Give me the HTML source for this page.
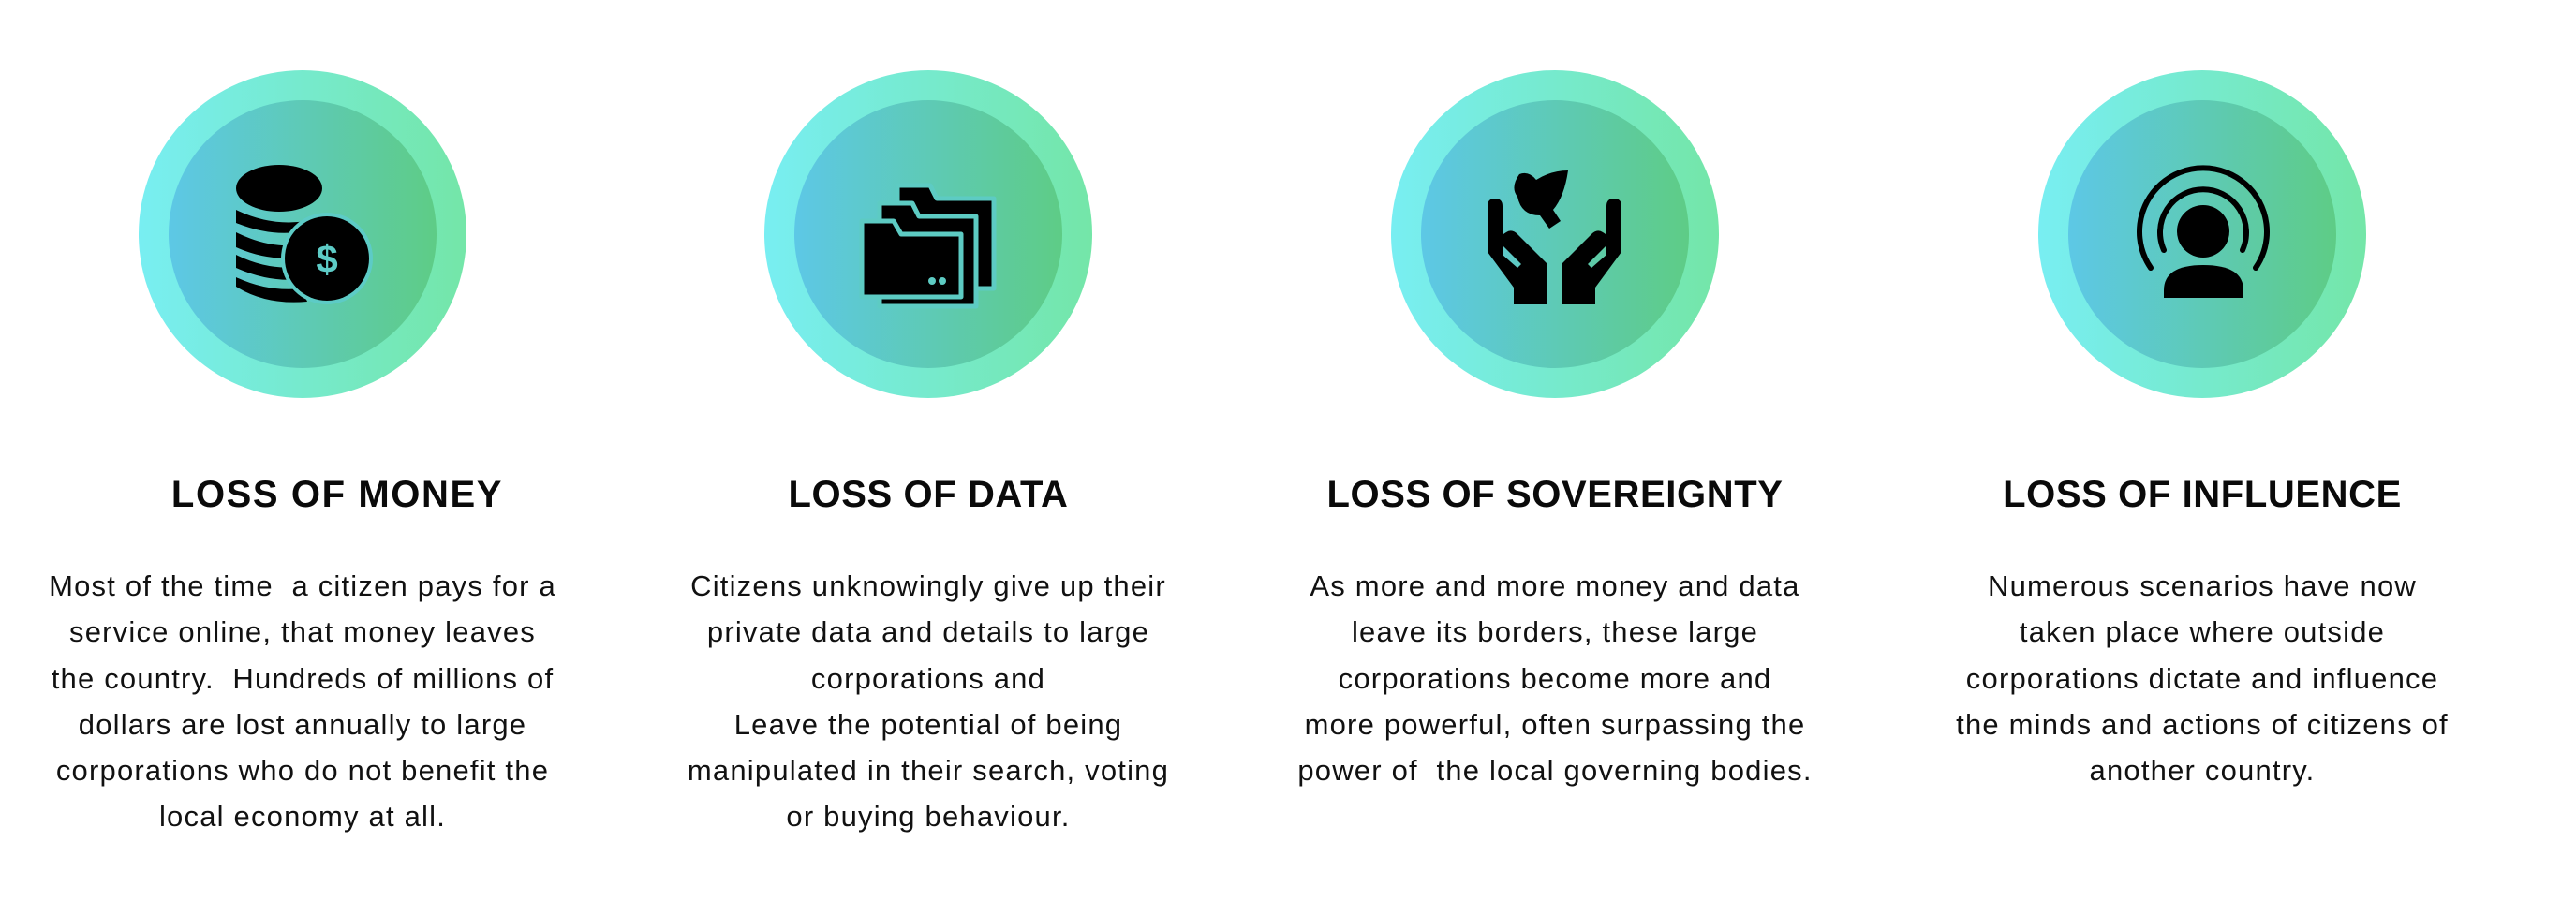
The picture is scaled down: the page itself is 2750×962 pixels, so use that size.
<!DOCTYPE html>
<html><head><meta charset="utf-8"><style>
html,body{margin:0;padding:0;background:#fff;}
body{width:2750px;height:962px;position:relative;overflow:hidden;}
svg{position:absolute;left:0;top:0;}
.h{position:absolute;width:700px;text-align:center;font-family:"Liberation Sans",sans-serif;font-weight:bold;font-size:40px;line-height:40px;color:#0a0a0a;top:508px;white-space:nowrap;letter-spacing:0.6px;}
.p{position:absolute;width:800px;text-align:center;font-family:"Liberation Sans",sans-serif;font-size:31px;line-height:49.3px;color:#111;top:601px;white-space:nowrap;letter-spacing:1.2px;}
</style></head><body>
<svg width="2750" height="962" viewBox="0 0 2750 962">
<defs>
<linearGradient id="og" x1="0" x2="1" y1="0" y2="0"><stop offset="0" stop-color="#78eef2"/><stop offset="1" stop-color="#74e6a8"/></linearGradient>
<linearGradient id="ig" x1="0" x2="1" y1="0" y2="0"><stop offset="0" stop-color="#5dc8e6"/><stop offset="1" stop-color="#5ecc86"/></linearGradient>
</defs>
<g>
<circle cx="323" cy="250" r="175" fill="url(#og)"/><circle cx="323" cy="250" r="143" fill="url(#ig)"/>
<g>
<ellipse cx="298" cy="201" rx="46" ry="25" fill="#000"/>
<path d="M252 224 q46 22 92 8 l-8 12 q-40 12 -84 -6z" fill="#000"/>
<path d="M252 248 q40 20 78 12 l-6 14 q-36 6 -72 -10z" fill="#000"/>
<path d="M252 272 q36 18 72 12 l-2 14 q-34 4 -70 -12z" fill="#000"/>
<path d="M252 296 q34 16 70 12 l6 14 q-44 4 -76 -16z" fill="#000"/>
<circle cx="349" cy="276" r="49" fill="#5dcbc6"/>
<circle cx="349" cy="276" r="45" fill="#000"/>
<text x="349" y="291" text-anchor="middle" font-family="Liberation Sans,sans-serif" font-weight="bold" font-size="42" fill="#5dcbc6">$</text>
</g></g>
<g>
<circle cx="991" cy="250" r="175" fill="url(#og)"/><circle cx="991" cy="250" r="143" fill="url(#ig)"/>
<g stroke="#5dcbc3" stroke-width="5" stroke-linejoin="round">
<path d="M958 198 h35 l7 14 h61 v96 h-103z" fill="#000"/>
<path d="M939 217 h35 l7 14 h61 v96 h-103z" fill="#000"/>
<path d="M920 236 h34 l8 14 h64 v67 h-106z" fill="#000"/>
</g>
<circle cx="995" cy="300" r="4" fill="#5dcbc3"/><circle cx="1006" cy="300" r="4" fill="#5dcbc3"/>
</g>
<g>
<circle cx="1660" cy="250" r="175" fill="url(#og)"/><circle cx="1660" cy="250" r="143" fill="url(#ig)"/>
<g fill="#000">
<path d="M1622 186 q10 -4 18 6 q16 -10 34 -10 q-4 28 -16 42 l8 12 l-12 8 l-10 -14 q-20 0 -24 -20 q-8 -10 2 -24z"/>
<path d="M1588 220 q0 -8 8 -8 q8 0 8 8 v52 l16 14 l4 -4 l-20 -20 q-4 -10 4 -14 q6 -4 12 2 l32 32 v43 h-36 v-18 l-28 -38z"/>
<path d="M1731 220 q0 -8 -8 -8 q-8 0 -8 8 v52 l-16 14 l-4 -4 l20 -20 q4 -10 -4 -14 q-6 -4 -12 2 l-32 32 v43 h36 v-18 l28 -38z"/>
</g></g>
<g>
<circle cx="2351" cy="250" r="175" fill="url(#og)"/><circle cx="2351" cy="250" r="143" fill="url(#ig)"/>
<g>
<path d="M2296 286 A68 68 0 1 1 2408 286" fill="none" stroke="#000" stroke-width="6" stroke-linecap="round"/>
<path d="M2310 267 A46 46 0 1 1 2394 267" fill="none" stroke="#000" stroke-width="6" stroke-linecap="round"/>
<circle cx="2352" cy="247" r="28" fill="#000"/>
<path d="M2310 318 v-8 q0 -27 42 -27 q43 0 43 27 v8z" fill="#000"/>
</g></g>
</svg>
<div class="h" style="left:10px;letter-spacing:1.6px">LOSS OF MONEY</div>
<div class="h" style="left:641px">LOSS OF DATA</div>
<div class="h" style="left:1310px">LOSS OF SOVEREIGNTY</div>
<div class="h" style="left:2001px">LOSS OF INFLUENCE</div>
<div class="p" style="left:-77px">Most of the time&nbsp; a citizen pays for a<br>service online, that money leaves<br>the country.&nbsp; Hundreds of millions of<br>dollars are lost annually to large<br>corporations who do not benefit the<br>local economy at all.</div>
<div class="p" style="left:591px">Citizens unknowingly give up their<br>private data and details to large<br>corporations and<br>Leave the potential of being<br>manipulated in their search, voting<br>or buying behaviour.</div>
<div class="p" style="left:1260px">As more and more money and data<br>leave its borders, these large<br>corporations become more and<br>more powerful, often surpassing the<br>power of&nbsp; the local governing bodies.</div>
<div class="p" style="left:1951px">Numerous scenarios have now<br>taken place where outside<br>corporations dictate and influence<br>the minds and actions of citizens of<br>another country.</div>
</body></html>
